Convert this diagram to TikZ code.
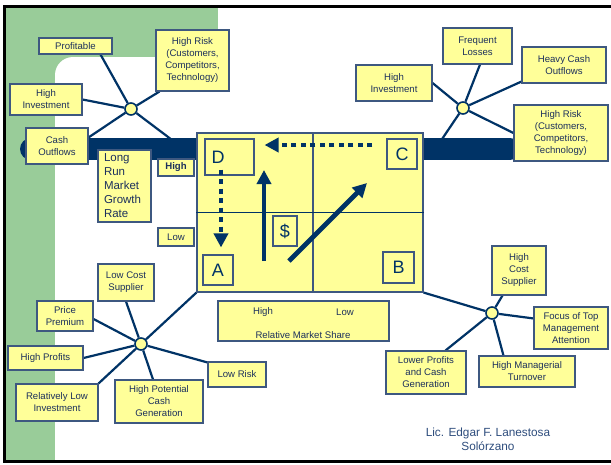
\documentclass[tikz,border=0pt]{standalone}
\usepackage{fontspec}
\setmainfont{Liberation Sans}
\usetikzlibrary{arrows.meta,calc}
\definecolor{boxfill}{RGB}{255,255,153}
\definecolor{boxline}{RGB}{62,88,128}
\definecolor{navy}{RGB}{0,51,102}
\definecolor{txt}{RGB}{28,48,92}
\definecolor{grn}{RGB}{153,204,153}
\definecolor{sig}{RGB}{46,77,125}
\pgfdeclarelayer{back}
\pgfdeclarelayer{conn}
\pgfsetlayers{back,conn,main}
\begin{document}
\begin{tikzpicture}[x=1pt,y=-1pt,
  ybox/.style={draw=boxline,fill=boxfill,line width=1.1pt,text=txt,inner sep=0pt,align=center,
    font=\fontsize{9.6}{12}\selectfont},
  letterbox/.style={draw=boxline,line width=1.1pt,inner sep=0pt,text=navy,font=\fontsize{18}{18}\selectfont},
  hub/.style={circle,draw=navy,fill=boxfill,line width=1.6pt,minimum size=12pt,inner sep=0pt},
  conn/.style={draw=navy,line width=2.2pt},
  bigarrow/.style={draw=navy,line width=4.8pt,-{Triangle[length=14pt,width=14pt]}},
  dotarrow/.style={bigarrow,dash pattern=on 5pt off 4.5pt},
  plain/.style={inner sep=0pt,text=txt,font=\fontsize{9.6}{12}\selectfont}
]
\useasboundingbox (0,0) rectangle (611,464);
% background
\begin{pgfonlayer}{back}
\fill[white] (0,0) rectangle (611,464);
\fill[grn] (6,8) rectangle (218,57);
\fill[grn] (6,8) rectangle (55,460);
\fill[grn] (55,57) rectangle (73,75);
\fill[white] (73,75) circle[radius=18pt];
\fill[black] (3,5) rectangle (611,8);
\fill[black] (3,5) rectangle (6,463);
\fill[black] (3,460) rectangle (611,463);
\end{pgfonlayer}

% matrix
\node[draw=boxline,fill=boxfill,line width=1.1pt,minimum width=226pt,minimum height=159pt,inner sep=0pt] (mat) at (310,212.5) {};
\draw[boxline,line width=1.1pt] ([xshift=3pt]mat.north) -- ([xshift=3pt]mat.south);
\draw[navy,line width=1.1pt] (mat.west) -- (mat.east);
\node[letterbox,minimum width=49pt,minimum height=36pt,text width=36pt,inner xsep=6.5pt,align=left] (D) at (229.5,157) {D};
\node[letterbox,minimum width=30pt,minimum height=30pt] (C) at (402,154) {C};
\node[letterbox,minimum width=30pt,minimum height=30pt] (A) at (218,270) {A};
\node[letterbox,minimum width=31pt,minimum height=31pt] (B) at (398.5,267.5) {B};
\node[letterbox,minimum width=24pt,minimum height=30pt] (S) at (285,231) {\$};

\draw[dotarrow] ([xshift=-14pt,yshift=9pt]C.west) -- ([xshift=10pt,yshift=12pt]D.east);
\draw[dotarrow] ([xshift=-8.5pt,yshift=6pt]D.south) -- ([xshift=3pt,yshift=7pt]A.north);
\coordinate (upS) at (264,261);
\coordinate (upE) at (264,170);
\draw[bigarrow] (upS) -- (upE);
\coordinate (dgS) at (289,261);
\coordinate (dgE) at (367,183);
\draw[bigarrow] (dgS) -- (dgE);

% axis labels
\node[ybox,minimum width=53pt,minimum height=72pt,text width=41pt,inner xsep=6pt,align=left,
  font=\fontsize{11.5}{14}\selectfont] (lr) at (124.5,186) {Long\\Run\\Market\\Growth\\Rate};
\node[ybox,minimum width=36pt,minimum height=17pt,font=\fontsize{9.6}{12}\selectfont\bfseries] (hi) at (176,167.5) {High};
\node[ybox,minimum width=36pt,minimum height=18pt] (lo) at (176,237) {Low};
\node[ybox,minimum width=171pt,minimum height=40pt] (rms) at (303.5,321) {};
\node[plain] (rmsH) at (263,312) {High};
\node[plain] (rmsL) at (345,312) {Low};
\node[plain] (rmsT) at (303,335) {Relative Market Share};

% top-left cluster
\node[hub] (h1) at (131,109) {};
\node[ybox,minimum width=73pt,minimum height=16pt] (prof) at (75.5,46) {Profitable};
\node[ybox,minimum width=73pt,minimum height=61pt] (hrL) at (192.5,60.5) {High Risk\\(Customers,\\Competitors,\\Technology)};
\node[ybox,minimum width=72pt,minimum height=31pt] (hiL) at (46,99.5) {High\\Investment};
\node[ybox,minimum width=62pt,minimum height=36pt] (cash) at (57,146) {Cash\\Outflows};
\coordinate (b1) at (180,146);

% top-right cluster
\node[hub] (h2) at (463,108) {};
\node[ybox,minimum width=76pt,minimum height=36pt] (hiR) at (394,83) {High\\Investment};
\node[ybox,minimum width=69pt,minimum height=36pt] (freq) at (477.5,46) {Frequent\\Losses};
\node[ybox,minimum width=84pt,minimum height=36pt] (heavy) at (564,65) {Heavy Cash\\Outflows};
\node[ybox,minimum width=94pt,minimum height=56pt] (hrR) at (561,133) {High Risk\\(Customers,\\Competitors,\\Technology)};
\coordinate (b2) at (436,148);

% bottom-left cluster
\node[hub] (h3) at (141,344) {};
\node[ybox,minimum width=56pt,minimum height=37pt] (lcs) at (126,282.5) {Low Cost\\Supplier};
\node[ybox,minimum width=56pt,minimum height=30pt] (pp) at (65,316) {Price\\Premium};
\node[ybox,minimum width=75pt,minimum height=24pt] (hp) at (45.5,358) {High Profits};
\node[ybox,minimum width=82pt,minimum height=37pt] (rli) at (57,402.5) {Relatively Low\\Investment};
\node[ybox,minimum width=88pt,minimum height=43pt] (hpc) at (159,401.5) {High Potential\\Cash\\Generation};
\node[ybox,minimum width=58pt,minimum height=25pt] (lrisk) at (237,374.5) {Low Risk};

% bottom-right cluster
\node[hub] (h4) at (492,313) {};
\node[ybox,minimum width=54pt,minimum height=49pt] (hcs) at (519,270.5) {High\\Cost\\Supplier};
\node[ybox,minimum width=74pt,minimum height=42pt] (focus) at (571,328) {Focus of Top\\Management\\Attention};
\node[ybox,minimum width=96pt,minimum height=31pt] (hmt) at (527,371.5) {High Managerial\\Turnover};
\node[ybox,minimum width=80pt,minimum height=43pt] (lp) at (426,372.5) {Lower Profits\\and Cash\\Generation};

\node[inner sep=0pt,align=center,text=sig,font=\fontsize{11.8}{14}\selectfont] (sigt) at (488,439) {Lic. Edgar F. Lanestosa\\Solórzano};

% connectors
\begin{pgfonlayer}{conn}
\draw[conn] (h1) -- ([xshift=-12pt]prof.south east);
\draw[conn] (h1) -- ([xshift=4pt]hrL.south west);
\draw[conn] (h1) -- (hiL.east);
\draw[conn] (h1) -- ([yshift=-10pt]cash.north east);
\draw[conn] (h1) -- (b1);
\draw[conn] (h2) -- (hiR.east);
\draw[conn] (h2) -- ([xshift=2.5pt]freq.south);
\draw[conn] (h2) -- ([yshift=2pt]heavy.south west);
\draw[conn] (h2) -- (hrR.west);
\draw[conn] (h2) -- (b2);
\draw[conn] (h3) -- (lcs.south);
\draw[conn] (h3) -- ([yshift=-3pt]pp.east);
\draw[conn] (h3) -- (hp.east);
\draw[conn] (h3) -- (rli.north east);
\draw[conn] (h3) -- ([xshift=-6pt]hpc.north);
\draw[conn] (h3) -- ([yshift=-1pt]lrisk.north west);
\draw[conn] (h3) -- (mat.south west);
\draw[conn] (h4) -- (mat.south east);
\draw[conn] (h4) -- ([xshift=11pt]hcs.south west);
\draw[conn] (h4) -- ([yshift=-12pt]focus.north west);
\draw[conn] (h4) -- ([xshift=25pt]hmt.north west);
\draw[conn] (h4) -- ([xshift=-21pt]lp.north east);
\coordinate (barL) at (31,149);
\coordinate (barR) at (510,149);
\draw[navy,line width=22pt,line cap=round] (barL) -- (barR);
\end{pgfonlayer}
\end{tikzpicture}
\end{document}
